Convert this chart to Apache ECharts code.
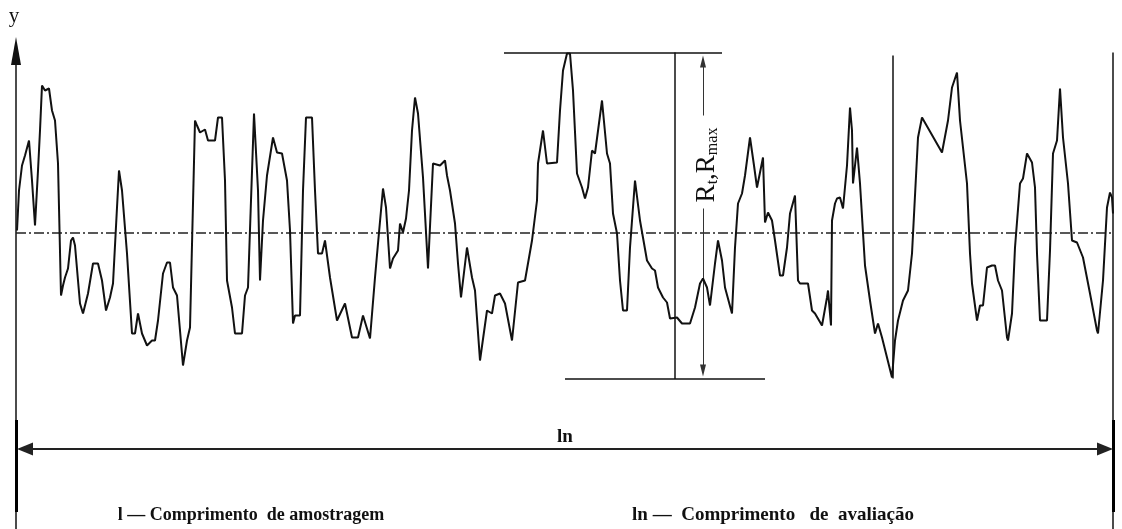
<!DOCTYPE html>
<html><head><meta charset="utf-8">
<script src="https://cdn.jsdelivr.net/npm/echarts/dist/echarts.min.js"></script>
<style>html,body{margin:0;padding:0;background:#fff}#c{width:1122px;height:529px}</style>
</head><body><div id="c"></div>
<script>
// Profile positions along the evaluation length (x) and heights relative to the mean line (y, positive up)
const profileX = [17,19,22,25,29,32,35,38,40,42,45,47,49,52,55,58,61,63,65,68,71,73,75,78,80,83,88,93,98,102,106,110,113,117,119,122,127,132,135,138,142,147,152,155,158,163,167,170,173,177,180,183,187,190,195,197,200,205,208,215,218,222,225,227,232,235,242,245,248,254,258,260,263,267,273,277,282,287,290,293,295,300,303,306,312,315,318,322,325,330,337,345,352,358,363,370,375,378,383,386,390,393,398,400,403,406,409,412,415,418,423,428,433,440,445,447,450,455,458,461,467,472,475,480,487,492,495,500,505,512,518,525,532,537,538,543,547,557,560,563,567,570,573,577,579,582,585,588,592,595,602,607,610,613,617,620,623,627,630,635,640,647,652,655,658,663,667,670,677,682,690,695,700,703,707,710,715,718,722,725,732,735,738,742,745,750,754,757,763,765,768,772,775,780,783,787,790,795,798,800,808,812,815,822,827,828,831,832,835,837,840,843,847,850,852,853,857,860,865,870,875,878,882,892,895,898,903,908,912,918,922,942,948,952,957,960,967,970,972,977,980,983,987,992,995,998,1002,1007,1008,1012,1015,1020,1023,1027,1032,1035,1037,1040,1047,1050,1053,1057,1060,1063,1068,1072,1077,1083,1090,1097,1098,1103,1107,1110,1112,1113];
const profileY = [2,42,67,77,92,52,7,62,102,147,142,144,144,122,112,69,-63,-53,-45,-36,-8,-5,-13,-48,-71,-81,-61,-31,-31,-48,-78,-65,-51,25,62,42,-21,-101,-101,-81,-101,-113,-108,-108,-88,-41,-30,-30,-55,-63,-98,-133,-108,-95,112,107,100,103,92,92,115,115,52,-48,-75,-101,-101,-63,-55,119,42,-48,12,57,95,80,79,52,2,-91,-83,-83,42,115,115,42,-21,-21,-8,-45,-88,-71,-105,-105,-83,-106,-45,-11,44,25,-36,-26,-18,9,0,14,42,102,135,119,55,-36,69,67,72,57,42,9,-31,-65,-15,-45,-58,-128,-78,-81,-63,-61,-71,-108,-50,-48,-8,32,69,102,69,70,122,162,179,179,142,59,60,45,34,45,82,79,132,79,69,19,-1,-48,-78,-78,-15,52,12,-28,-36,-38,-55,-65,-70,-86,-85,-91,-91,-75,-51,-46,-55,-73,-31,-8,-28,-55,-81,-15,29,39,57,95,67,45,75,10,20,12,-8,-43,-43,-15,19,37,-48,-51,-51,-78,-81,-93,-65,-58,-93,12,29,34,35,24,67,125,102,49,85,49,-33,-68,-101,-91,-105,-145,-108,-88,-68,-58,-21,95,115,80,112,145,160,112,49,-21,-51,-88,-73,-73,-35,-33,-33,-48,-58,-105,-108,-81,-15,49,54,79,70,45,-21,-88,-88,-18,79,92,144,95,49,-8,-10,-25,-61,-98,-101,-48,25,40,35,19];

// Axis range and reference levels (same units as the profile)
const xRange = [16, 1113];
const yRange = [-296.5, 181.5];
const meanLevel = 0;
const peakLevel = 180;        // line through highest peak
const valleyLevel = -146.5;   // line through deepest valley
const peakLineX = [504, 722];
const valleyLineX = [565, 765];
const rmaxMarkX = 675;
const rmaxArrowX = 703;
const rmaxArrowTop = [117, 171];
const rmaxArrowBottom = [24, -138];
const sectionMarkX = 893;
const sectionMarkY = [177, -146];
const endMarkX = 1113;
const lnLevel = -216.5;
const lnArrowX = [25, 1105];
const tickBarY = [-187.5, -279.5];

const chart = echarts.init(document.getElementById('c'), null, {renderer: 'canvas'});
const serif = 'Liberation Serif';
const seg = (a, b) => [{coord: a}, {coord: b}];

const option = {
  backgroundColor: '#fff',
  animation: false,
  grid: {left: 16, right: 1122 - 1113, top: 51, bottom: 0},
  xAxis: {type: 'value', min: xRange[0], max: xRange[1], show: false},
  yAxis: {
    type: 'value', min: yRange[0], max: yRange[1],
    axisLine: {show: true, onZero: false, symbol: ['none', 'triangle'], symbolSize: [10, 28],
      lineStyle: {color: '#111', width: 1.5}},
    axisTick: {show: false}, axisLabel: {show: false}, splitLine: {show: false}
  },
  series: [
    {
      name: 'mean', type: 'line', data: [], silent: true,
      markLine: {silent: true, animation: false, symbol: 'none', label: {show: false},
        lineStyle: {color: '#222', width: 1.5, type: [10, 3, 2, 3]},
        data: [{yAxis: meanLevel}]}
    },
    {
      name: 'profile', type: 'line', symbol: 'none', z: 5,
      lineStyle: {color: '#111', width: 2},
      data: profileX.map((x, i) => [x, profileY[i]])
    },
    {
      name: 'refs', type: 'line', data: [], silent: true,
      markLine: {silent: true, animation: false, symbol: ['none', 'none'], label: {show: false},
        lineStyle: {color: '#111', width: 1.5, type: 'solid'},
        data: [
          seg([peakLineX[0], peakLevel], [peakLineX[1], peakLevel]),
          seg([valleyLineX[0], valleyLevel], [valleyLineX[1], valleyLevel]),
          seg([rmaxMarkX, peakLevel], [rmaxMarkX, valleyLevel]),
          seg([sectionMarkX, sectionMarkY[0]], [sectionMarkX, sectionMarkY[1]]),
          seg([endMarkX, peakLevel], [endMarkX, yRange[0]])
        ]}
    },
    {
      name: 'bars', type: 'line', data: [], silent: true,
      markLine: {silent: true, animation: false, symbol: ['none', 'none'], label: {show: false},
        lineStyle: {color: '#000', width: 3, type: 'solid'},
        data: [
          seg([xRange[0], tickBarY[0]], [xRange[0], tickBarY[1]]),
          seg([endMarkX, tickBarY[0]], [endMarkX, tickBarY[1]])
        ]}
    },
    {
      name: 'rmaxArrows', type: 'line', data: [], silent: true,
      markLine: {silent: true, animation: false, symbol: ['none', 'triangle'], symbolSize: [6, 12],
        label: {show: false},
        lineStyle: {color: '#333', width: 1, type: 'solid'},
        data: [
          seg([rmaxArrowX, rmaxArrowTop[0]], [rmaxArrowX, rmaxArrowTop[1]]),
          seg([rmaxArrowX, rmaxArrowBottom[0]], [rmaxArrowX, rmaxArrowBottom[1]])
        ]}
    },
    {
      name: 'ln', type: 'line', data: [], silent: true,
      markLine: {silent: true, animation: false, symbol: ['triangle', 'triangle'], symbolSize: [13, 16],
        lineStyle: {color: '#222', width: 2, type: 'solid'},
        label: {show: true, position: 'middle', formatter: 'ln', distance: 2,
          fontFamily: serif, fontWeight: 'bold', fontSize: 19, color: '#111'},
        data: [seg([lnArrowX[0], lnLevel], [lnArrowX[1], lnLevel])]}
    }
  ],
  graphic: [
    {type: 'text', x: 14, y: 16, style: {text: 'y', fontFamily: serif, fontSize: 21, fill: '#111',
      textAlign: 'center', textVerticalAlign: 'middle'}},
    {type: 'text', x: 707, y: 165, rotation: Math.PI / 2,
      style: {text: '{r|R}{s|t}{r|,R}{s|max}', textAlign: 'center', textVerticalAlign: 'middle', fill: '#111',
        rich: {r: {fontFamily: serif, fontSize: 27, verticalAlign: 'bottom', fill: '#111'},
               s: {fontFamily: serif, fontSize: 16, verticalAlign: 'bottom', fill: '#111'}}}},
    {type: 'text', x: 251, y: 515, style: {text: 'l — Comprimento  de amostragem', fontFamily: serif,
      fontWeight: 'bold', fontSize: 18, fill: '#111', textAlign: 'center', textVerticalAlign: 'middle'}},
    {type: 'text', x: 773, y: 515, style: {text: 'ln —  Comprimento   de  avaliação', fontFamily: serif,
      fontWeight: 'bold', fontSize: 19, fill: '#111', textAlign: 'center', textVerticalAlign: 'middle'}}
  ]
};
chart.setOption(option);
</script>
</body></html>
